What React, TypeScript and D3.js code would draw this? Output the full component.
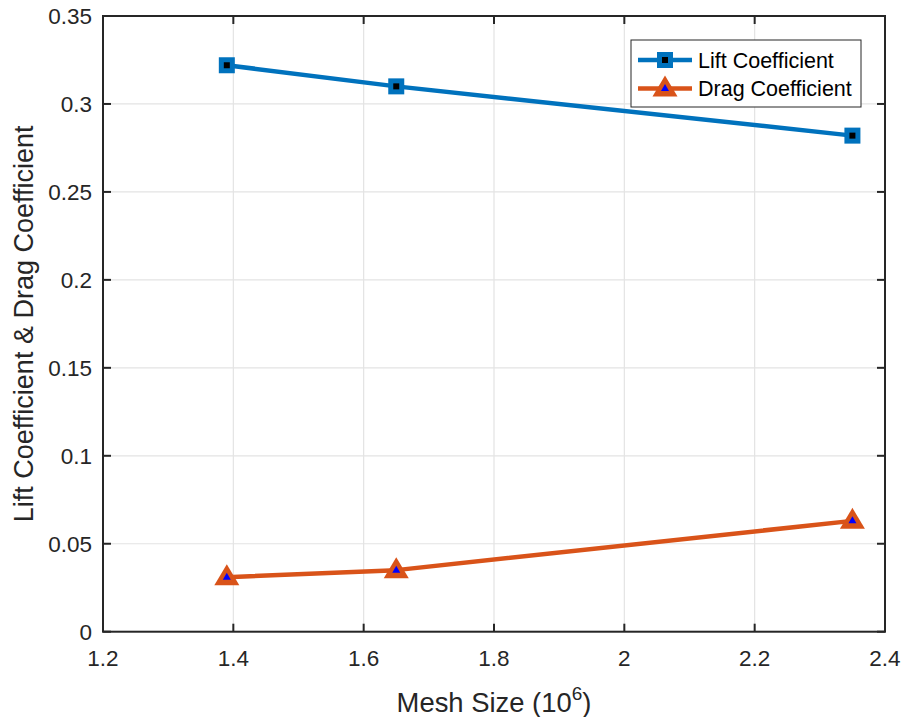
import React from "react";
import * as d3 from "d3";

const meshSize = [1.39, 1.65, 2.35];
const liftCoef = [0.322, 0.31, 0.282];
const dragCoef = [0.031, 0.035, 0.063];
const xTicks = [1.2, 1.4, 1.6, 1.8, 2.0, 2.2, 2.4];
const yTicks = [0, 0.05, 0.1, 0.15, 0.2, 0.25, 0.3, 0.35];
const seriesNames = ["Lift Coefficient", "Drag Coefficient"];

const W = 904, H = 717;
const L = 103, R = 885, T = 16, B = 631.7;
const BLUE = "#0072BD", ORANGE = "#D95319";
const FONT = "'Liberation Sans', Arial, Helvetica, sans-serif";
const AX = "#262626";

function Square({ cx, cy }: { cx: number; cy: number }) {
  return (
    <g>
      <rect x={cx - 8} y={cy - 8} width={16} height={16} fill={BLUE} />
      <rect x={cx - 3} y={cy - 3} width={6} height={6} fill="#000" />
    </g>
  );
}

function Tri({ cx, cy }: { cx: number; cy: number }) {
  const outer = `M${cx},${cy - 13} L${cx + 12.5},${cy + 8} L${cx - 12.5},${cy + 8} Z`;
  const inner = `M${cx},${cy - 4.5} L${cx + 4},${cy + 2.5} L${cx - 4},${cy + 2.5} Z`;
  return (
    <g>
      <path d={outer} fill={ORANGE} />
      <path d={inner} fill="#0000FF" />
    </g>
  );
}

export default function App() {
  const x = d3.scaleLinear().domain([1.2, 2.4]).range([L, R]);
  const y = d3.scaleLinear().domain([0, 0.35]).range([B, T]);
  const line = d3
    .line<number>()
    .x((_, i) => x(meshSize[i]))
    .y((d) => y(d));
  const fmt = (v: number) => d3.format("~g")(+v.toFixed(2));
  const legX = 631, legY = 40, legW = 230, legH = 67;
  const rows = [60, 88.5];

  return (
    <svg
      width={W}
      height={H}
      style={{ position: "absolute", left: 0, top: 0, background: "#fff" }}
      fontFamily={FONT}
    >
      <rect x={0} y={0} width={W} height={H} fill="#fff" />
      {/* grid */}
      {xTicks.map((t) => (
        <line key={"gx" + t} x1={x(t)} x2={x(t)} y1={T} y2={B} stroke="#e3e3e3" strokeWidth={1.2} />
      ))}
      {yTicks.map((t) => (
        <line key={"gy" + t} x1={L} x2={R} y1={y(t)} y2={y(t)} stroke="#e3e3e3" strokeWidth={1.2} />
      ))}
      {/* series */}
      <path d={line(liftCoef) || ""} fill="none" stroke={BLUE} strokeWidth={4.5} strokeLinejoin="round" />
      <path d={line(dragCoef) || ""} fill="none" stroke={ORANGE} strokeWidth={4.5} strokeLinejoin="round" />
      {liftCoef.map((v, i) => (
        <Square key={"s" + i} cx={x(meshSize[i])} cy={y(v)} />
      ))}
      {dragCoef.map((v, i) => (
        <Tri key={"t" + i} cx={x(meshSize[i])} cy={y(v)} />
      ))}
      {/* box */}
      <rect x={L} y={T} width={R - L} height={B - T} fill="none" stroke={AX} strokeWidth={2} />
      {/* ticks */}
      {xTicks.map((t) => (
        <g key={"tx" + t}>
          <line x1={x(t)} x2={x(t)} y1={B} y2={B - 8} stroke={AX} strokeWidth={2} />
          <line x1={x(t)} x2={x(t)} y1={T} y2={T + 8} stroke={AX} strokeWidth={2} />
          <text x={x(t)} y={665.5} textAnchor="middle" fontSize={22.5} fill={AX}>
            {fmt(t)}
          </text>
        </g>
      ))}
      {yTicks.map((t) => (
        <g key={"ty" + t}>
          <line x1={L} x2={L + 8} y1={y(t)} y2={y(t)} stroke={AX} strokeWidth={2} />
          <line x1={R} x2={R - 8} y1={y(t)} y2={y(t)} stroke={AX} strokeWidth={2} />
          <text x={92} y={y(t) + 8} textAnchor="end" fontSize={22.5} fill={AX}>
            {fmt(t)}
          </text>
        </g>
      ))}
      {/* axis labels */}
      <text x={(L + R) / 2} y={711.5} textAnchor="middle" fontSize={27.4} fill={AX}>
        Mesh Size (10
        <tspan dy={-12} fontSize={19}>6</tspan>
        <tspan dy={12}>)</tspan>
      </text>
      <text
        transform={`translate(33,${(T + B) / 2}) rotate(-90)`}
        textAnchor="middle"
        fontSize={27}
        fill={AX}
      >
        Lift Coefficient &amp; Drag Coefficient
      </text>
      {/* legend */}
      <rect x={legX} y={legY} width={legW} height={legH} fill="#fff" stroke={AX} strokeWidth={1} />
      <line x1={638} x2={692} y1={rows[0]} y2={rows[0]} stroke={BLUE} strokeWidth={4.5} />
      <Square cx={665} cy={rows[0]} />
      <line x1={638} x2={692} y1={rows[1]} y2={rows[1]} stroke={ORANGE} strokeWidth={4.5} />
      <Tri cx={665} cy={rows[1]} />
      {seriesNames.map((n, i) => (
        <text key={n} x={698} y={rows[i] + 7.5} fontSize={21.5} fill="#000">
          {n}
        </text>
      ))}
    </svg>
  );
}
